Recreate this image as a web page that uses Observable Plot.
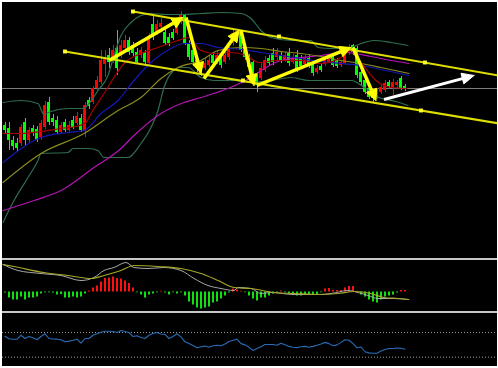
<!DOCTYPE html>
<html><head><meta charset="utf-8">
<script src="https://cdn.jsdelivr.net/npm/d3@7"></script>
<script src="https://cdn.jsdelivr.net/npm/@observablehq/plot@0.6"></script>
<style>
html,body{margin:0;padding:0;background:#fff;}
#chart{position:relative;width:498px;height:368px;background:#fff;overflow:hidden;}
.panel{position:absolute;left:2px;width:495px;background:#000;overflow:hidden;}
.panel svg{display:block;}
.sep{position:absolute;left:2px;width:495px;background:#c8c8c8;}
</style></head><body>
<div id="chart">
  <div class="panel" id="main" style="top:2px;height:256px"></div>
  <div class="sep" style="top:258px;height:2px"></div>
  <div class="panel" id="macd" style="top:260px;height:51px"></div>
  <div class="sep" style="top:311px;height:2px"></div>
  <div class="panel" id="rsi" style="top:313px;height:53px"></div>
</div>
<script>
// ---- candles (price units) ----
const open  = [135,132,120,117,117,138,120,132,131,123,133,158,142,140,128,138,130,140,137,142,130,160,158,172,178,196,205,200,212,205,212,220,215,208,205,208,197,236,228,233,228,223,228,227,238,245,217,210,200,195,192,195,205,198,202,198,203,217,223,228,212,203,198,185,182,190,202,207,203,205,200,207,198,205,202,196,202,197,188,194,196,198,203,200,195,197,207,215,212,188,180,172,168,163,168,170,178,173,175,182,174];
const high  = [138,138,124,122,136,142,133,135,134,140,159,163,146,144,138,141,139,144,148,146,158,163,174,184,210,210,212,215,230,220,225,223,218,212,213,210,227,245,240,242,232,227,231,242,249,246,220,213,202,198,202,205,208,210,206,208,216,230,231,230,214,206,200,188,197,204,205,212,212,208,208,212,206,210,205,205,205,200,195,197,203,205,206,202,200,210,216,216,214,190,182,174,170,172,176,180,180,181,180,184,176];
const low   = [127,110,110,108,114,115,117,124,118,120,131,135,134,126,126,128,128,131,135,128,123,151,156,170,176,183,192,197,185,202,210,205,204,196,202,195,195,220,225,230,215,214,220,225,236,215,200,194,188,184,190,193,194,196,192,196,200,214,221,208,200,190,184,168,180,188,194,195,200,197,198,194,196,188,192,194,192,184,186,188,194,197,193,192,193,195,205,205,182,175,166,161,157,161,166,168,172,165,172,170,169];
const close = [130,120,114,112,133,120,130,127,120,137,155,138,138,128,135,130,135,133,144,130,155,154,172,180,200,203,198,210,192,215,220,208,207,198,210,198,223,223,236,237,217,217,222,237,245,217,203,198,192,187,197,200,197,205,195,205,213,227,229,210,203,193,187,175,192,200,197,198,208,200,205,197,203,190,194,202,195,187,192,190,200,202,195,194,198,207,213,208,185,178,168,163,162,170,173,177,174,178,178,172,171];
const lastPrice = 172;

// ---- indicator readings: [bar, value] ----
const maRed = [[-0.5,127],[4,127],[9,129],[14,132],[17.75,134],[20.25,138],[21.5,147],[24.75,167],[27.25,183],[29.75,197],[34,207],[38.25,213],[43.25,220],[45.75,223],[49,210],[52.25,207],[56.5,208],[60.25,205],[63.5,198],[67.75,200],[74,200],[79,197],[84,203],[86.5,210],[89,198],[92.75,180],[96.5,173],[100.5,172]];
const maBlue = [[-0.5,98],[9,123],[15.75,128],[19.75,130],[24,147],[28.25,160],[32.25,180],[36.5,198],[41.5,212],[44.75,217],[49,217],[53.25,213],[59,211],[64,208],[69,205],[74,202],[79,199],[84,197],[89,195],[94,191],[101,185]];
const maOlive = [[-0.5,78],[9,107],[19.75,127],[28.25,150],[34,163],[39,182],[43.25,193],[49,200],[53.25,210],[59,213],[64,212],[69,209],[74,207],[79,204],[84,200],[89,197],[94,193],[101,187]];
const maMagenta = [[-0.5,50],[7.25,60],[14,70],[22.25,93],[29,112],[32.25,125],[39,147],[44.75,158],[49,163],[55.75,172],[61.5,183],[65.25,193],[69,200],[74,203],[79,205],[85.25,208],[91.5,204],[96.5,200],[101,197]];
const bandUpper = [[-0.5,158],[4,160],[8.25,157],[9.75,146],[11.5,149],[15.75,152],[19.5,152],[21,157],[23.25,170],[25.75,185],[27.25,205],[29,225],[31.5,238],[34,245],[36.5,247],[40.25,246],[44,246],[49,247],[54,248],[59,247],[61.5,242],[64,230],[66.5,223],[71.5,220],[76.5,220],[78.25,213],[81.5,212],[86.5,213],[89,217],[92.25,220],[96.5,218],[100.75,215]];
const bandLower = [[-0.5,38],[2.25,60],[5.75,83],[8.25,100],[9,107],[15.75,108],[17,112],[20.75,112],[23.25,110],[24.75,103],[30.75,103],[34,117],[36.5,133],[38.25,150],[39.75,173],[41.5,187],[44,193],[45.75,193],[49,183],[52.25,180],[57.25,180],[61.5,178],[66.5,180],[71.5,183],[76,180],[81,180],[86.5,180],[90.25,172],[93.5,163],[97.75,159],[100.75,155]];

// ---- channel & drawn arrows ----
const channelUpper = [[32,249],[123.125,185.2]];
const channelLower = [[15,209],[123.125,137.3]];
const channelPoints = [[32,249],[68.5,224],[105,198],[15,209],[59.5,180],[104,150]];
const swingArrows = [
  {x1:26, y1:200, x2:44.5, y2:243},
  {x1:45.25, y1:243, x2:49, y2:187},
  {x1:49.75, y1:182, x2:58.5, y2:230},
  {x1:59, y1:230, x2:62.25, y2:175},
  {x1:63, y1:175, x2:86.5, y2:213},
  {x1:87, y1:213, x2:92.75, y2:160}
];
const forecastArrow = [{x1:94.75, y1:161, x2:117.25, y2:185}];

// ---- oscillator panel ----
const osma = [-1,-6,-8,-8,-5,-8,-6,-6,-5,-2,-0.5,-0.5,-1,-3,-2.5,-6,-6,-5,-6,-5,-2,1,4,6,10,13.5,14,15,13.5,13,11,8.5,4,-0.5,-3,-6,-3,-2,-0.5,0.5,-1,-3,-0.5,-2,-0.5,-4,-10,-13,-16,-17,-16,-15,-11,-10,-7,-4,-1,3,2,0.5,-0.5,-4,-7,-9,-6,-6,-4,-2,-0.5,1,-0.5,-2,-3,-4,-4,-3.5,-3,-3.5,-2.5,-0.5,3,3.5,1.5,1.5,1.5,4,5.5,5.5,0.5,-3,-5,-8,-10,-11,-8,-5,-4,-3,-1,1.5,1.5];
const oscMain = [[-0.5,27.5],[3.25,21.5],[9,18.5],[14,16.5],[19,11.5],[22.25,14.5],[24.75,21.5],[27.25,24.5],[30.25,29.5],[32.25,24.5],[35.75,23.5],[39.75,24.5],[44,21.5],[47.25,13.5],[50.75,6.5],[54,3.5],[57.25,1.5],[58.25,4.5],[61.5,3.5],[64,-1.5],[66.5,-0.5],[72.25,-2.5],[79,-2.5],[81.5,-1.5],[85.75,1.5],[88.25,-0.5],[90.75,-3.5],[93.25,-6.5],[97.25,-6.5],[100.75,-7.5]];
const oscSignal = [[-0.5,27.5],[2.25,25.5],[9.75,19.5],[15.75,16.5],[21.5,13.5],[24.75,16.5],[29,21.5],[32.25,26.5],[38.25,25.5],[44,23.5],[49,18.5],[53.25,11.5],[57.25,4.5],[61.5,3.5],[67.25,-0.5],[72.25,-1.5],[78.25,-2.5],[83.25,-1.5],[87.25,0.5],[91.5,-1.5],[94.75,-5.5],[98.25,-6.5],[101,-7.5]];

// ---- RSI panel ----
const rsi = [64,60,59,59,65.6,60.3,63.5,61.4,58.2,63.5,67.9,60.3,59.5,59.2,58.2,54.9,56,57.5,59.2,52.7,60.3,60.3,65.6,67.9,70.5,72.1,72.1,71.5,70,73.2,71.5,70,63.5,64.7,62,60.3,65.6,68.5,70,67.5,66.8,60.3,63.5,67.9,63,54.9,52,49,45.2,47,48,46.2,48.5,49.4,48.5,51.5,55.5,57.5,59.2,52,50,46,40.9,44,47,50.6,50.6,50.6,49.4,52.7,50,47.5,46.2,45.5,47,47.5,46.2,47.5,49.4,51.5,54,52,48.5,50,54,58.2,57.5,52,45.2,46.5,38.8,37,36.5,36.5,40,42.5,44.1,44.1,45,44.5,43];
const rsiLevels = [70, 30];

// ---------------------------------------------------------------
const UP = "#ff0000", DN = "#00ff00";
const candles = open.map((o, i) => ({i, o, h: high[i], l: low[i], c: close[i]}));
const xDom = [-0.625, 123.125];
const W = 495, H = 256;
const yDom = [2, 258];
const pair = {x: d => d[0], y: d => d[1]};
const kx = W / (xDom[1] - xDom[0]);   // px per bar
const ky = H / (yDom[1] - yDom[0]);   // px per price unit

// split each arrow into a shaft (ending at the head's base) and a filled triangular head
function buildArrows(list, headLen, headHalf) {
  const shafts = [], heads = [];
  list.forEach((a, k) => {
    const dx = (a.x2 - a.x1) * kx, dy = (a.y2 - a.y1) * ky;
    const len = Math.hypot(dx, dy), ux = dx / len, uy = dy / len;
    const bx = a.x2 - ux * headLen / kx, by = a.y2 - uy * headLen / ky;
    const nx = -uy, ny = ux;
    shafts.push({x1: a.x1, y1: a.y1, x2: bx, y2: by});
    heads.push({k, x: a.x2, y: a.y2});
    heads.push({k, x: bx + nx * headHalf / kx, y: by + ny * headHalf / ky});
    heads.push({k, x: bx - nx * headHalf / kx, y: by - ny * headHalf / ky});
    heads.push({k, x: a.x2, y: a.y2});
  });
  return {shafts, heads};
}
const sw = buildArrows(swingArrows, 11, 5.5);
const fc = buildArrows(forecastArrow, 12, 5.5);

const main = Plot.plot({
  width: W, height: H, margin: 0,
  x: {domain: xDom, axis: null},
  y: {domain: yDom, axis: null},
  color: {type: "identity"},
  style: {background: "#000"},
  marks: [
    Plot.ruleY([lastPrice], {stroke: "#7c7c7c", strokeWidth: 1, shapeRendering: "crispEdges"}),
    Plot.ruleX(candles, {x: "i", y1: "l", y2: "h", stroke: d => d.c >= d.o ? UP : DN, strokeWidth: 1, shapeRendering: "crispEdges"}),
    Plot.rect(candles, {x1: d => d.i - 0.375, x2: d => d.i + 0.375, y1: "o", y2: "c", fill: d => d.c >= d.o ? UP : DN, shapeRendering: "crispEdges"}),
    Plot.line(bandUpper, {...pair, stroke: "#2e6e4e", strokeWidth: 1.2, curve: "monotone-x"}),
    Plot.line(bandLower, {...pair, stroke: "#2e6e4e", strokeWidth: 1.2, curve: "monotone-x"}),
    Plot.line(maMagenta, {...pair, stroke: "#b414b4", strokeWidth: 1.2, curve: "monotone-x"}),
    Plot.line(maOlive, {...pair, stroke: "#8c8c1e", strokeWidth: 1.2, curve: "monotone-x"}),
    Plot.line(maBlue, {...pair, stroke: "#1418b8", strokeWidth: 1.2, curve: "monotone-x"}),
    Plot.line(maRed, {...pair, stroke: "#a80000", strokeWidth: 1.2, curve: "monotone-x"}),
    Plot.line(channelUpper, {...pair, stroke: "#dede00", strokeWidth: 2}),
    Plot.line(channelLower, {...pair, stroke: "#dede00", strokeWidth: 2}),
    Plot.dot(channelPoints, {...pair, symbol: "square", r: 2.2, fill: "#ffff30", stroke: "none"}),
    Plot.link(sw.shafts, {x1: "x1", y1: "y1", x2: "x2", y2: "y2", stroke: "#ffff00", strokeWidth: 3.5}),
    Plot.line(sw.heads, {x: "x", y: "y", z: "k", fill: "#ffff00", stroke: "#ffff00", strokeWidth: 1, strokeLinejoin: "miter"}),
    Plot.link(fc.shafts, {x1: "x1", y1: "y1", x2: "x2", y2: "y2", stroke: "#ffffff", strokeWidth: 3}),
    Plot.line(fc.heads, {x: "x", y: "y", z: "k", fill: "#ffffff", stroke: "#ffffff", strokeWidth: 1, strokeLinejoin: "miter"})
  ]
});
document.getElementById("main").appendChild(main);

const hist = osma.map((v, i) => ({i, v}));
const macd = Plot.plot({
  width: W, height: 51, margin: 0,
  x: {domain: xDom, axis: null},
  y: {domain: [-19.5, 31.5], axis: null},
  color: {type: "identity"},
  style: {background: "#000"},
  marks: [
    Plot.ruleX(hist, {x: "i", y1: 0, y2: d => Math.abs(d.v) < 0.8 ? Math.sign(d.v || 1) * 0.8 : d.v, stroke: d => d.v >= 0 ? "#ff1010" : "#10e010", strokeWidth: 2}),
    Plot.line(oscMain, {...pair, stroke: "#a8a8a8", strokeWidth: 1, curve: "monotone-x"}),
    Plot.line(oscSignal, {...pair, stroke: "#a6a62a", strokeWidth: 1.2, curve: "monotone-x"})
  ]
});
document.getElementById("macd").appendChild(macd);

const rsiPlot = Plot.plot({
  width: W, height: 53, margin: 0,
  x: {domain: xDom, axis: null},
  y: {domain: [14.94, 100.77], axis: null},
  style: {background: "#000"},
  marks: [
    Plot.ruleY(rsiLevels, {stroke: "#9a9a9a", strokeDasharray: "1,2", strokeWidth: 1}),
    Plot.line(rsi.map((v, i) => ({i, v})), {x: "i", y: "v", stroke: "#2a6cb4", strokeWidth: 1.1})
  ]
});
document.getElementById("rsi").appendChild(rsiPlot);
</script>
</body></html>
